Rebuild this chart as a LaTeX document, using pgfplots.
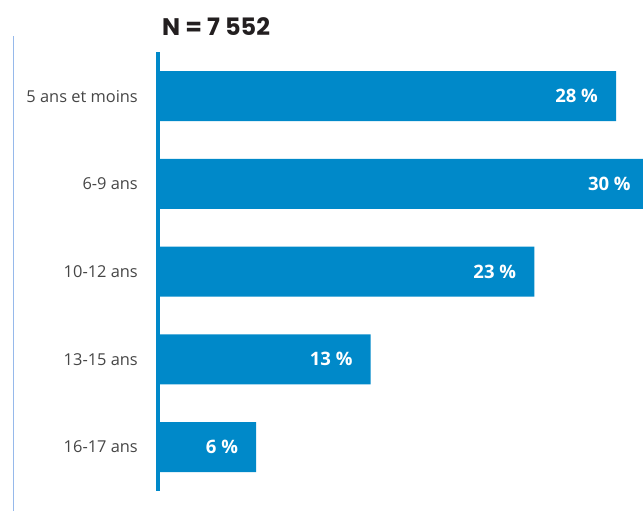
\documentclass[border=0pt]{standalone}
\usepackage{fontspec}
\setmainfont{Open Sans}
\newfontfamily\titlefont{Poppins}
\usepackage{pgfplots}
\pgfplotsset{compat=1.18}
\definecolor{barblue}{RGB}{0,137,201}
\definecolor{labgray}{RGB}{70,70,70}
\definecolor{titleblack}{RGB}{35,31,32}
\definecolor{sideline}{RGB}{150,185,235}

\begin{document}
\begin{tikzpicture}[x=1bp,y=1bp]
\useasboundingbox (0,0) rectangle (643,511);
% fine rule on the left edge
\draw[sideline, line width=1bp] (13,0) -- (13,475);
\node[anchor=base west, inner sep=0pt, text=titleblack,
      font=\titlefont\bfseries\fontsize{24bp}{28bp}\selectfont] at (162,475) {N = 7 552};
\begin{axis}[
  at={(158bp,20bp)}, anchor=south west,
  scale only axis, width=490.8bp, height=438.75bp,
  xmin=0, xmax=30, ymin=-0.5, ymax=4.5,
  xbar, bar width=50bp, clip=false,
  axis x line=none, xtick=\empty,
  axis y line=left,
  y axis line style={-, line width=4.5bp, draw=barblue},
  ytick={0,...,4},
  yticklabels={16-17 ans,13-15 ans,10-12 ans,6-9 ans,5 ans et moins},
  major tick length=0pt,
  yticklabel style={font=\fontsize{16.4bp}{19bp}\selectfont, text=labgray,
                    inner sep=0pt, xshift=-20bp},
  point meta=x,
  /pgf/number format/assume math mode=true,
  nodes near coords={\pgfmathprintnumber{\pgfplotspointmeta}~\%},
  every node near coord/.append style={anchor=east, xshift=-18bp, inner sep=0pt,
                    text=white, font=\bfseries\fontsize{18.5bp}{22bp}\selectfont},
]
\addplot[fill=barblue, draw=none] coordinates {(6,0) (13,1) (23,2) (30,3) (28,4)};
\end{axis}
\end{tikzpicture}
\end{document}
